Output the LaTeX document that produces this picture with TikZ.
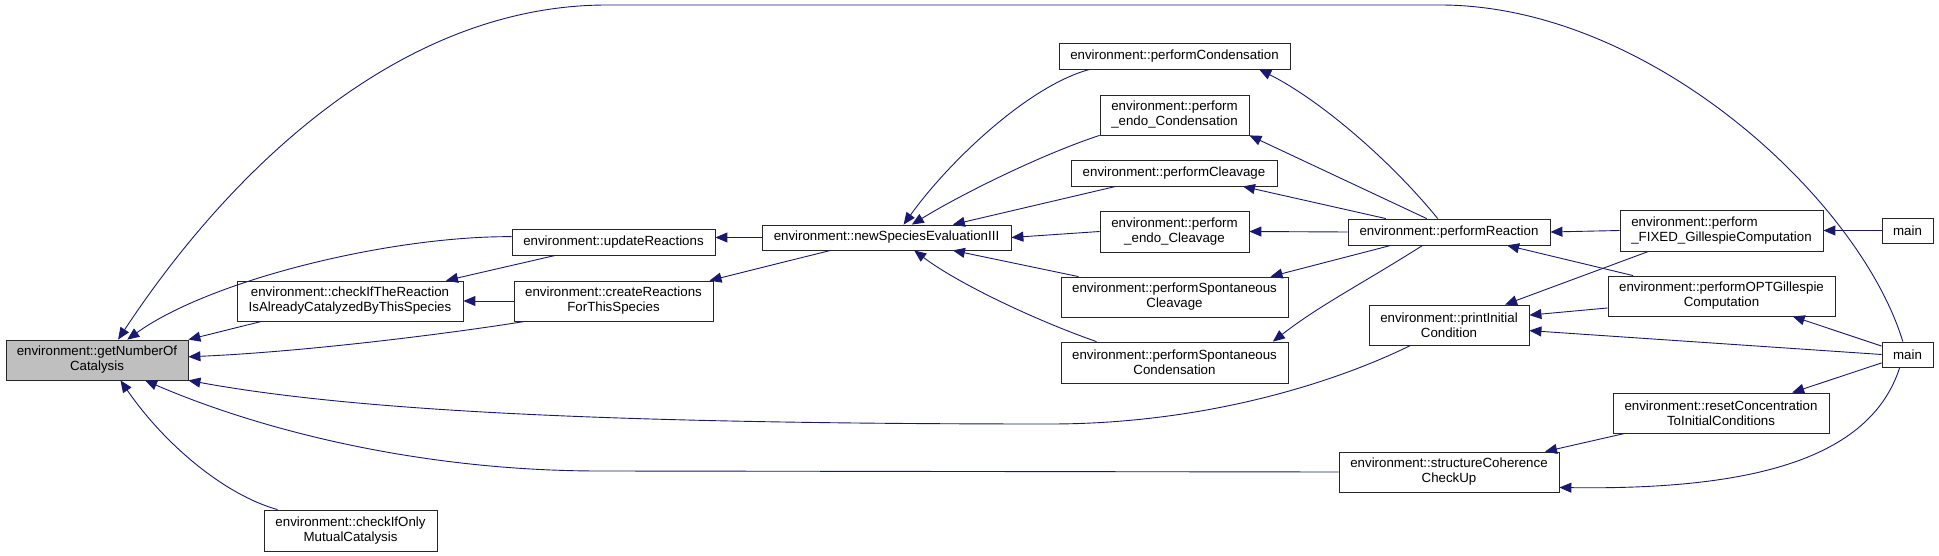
\documentclass[tikz,border=0pt]{standalone}
\usepackage{fontspec}
\setmainfont{Liberation Sans}
\usepackage{xcolor}
\usetikzlibrary{arrows.meta}
\definecolor{edgeblue}{HTML}{191970}
\definecolor{hilite}{HTML}{BFBFBF}

\begin{document}
\begin{tikzpicture}[x=1pt,y=-1pt,
  box/.style={draw=black!85,line width=0.8pt,align=center,inner sep=0pt,fill=white,font=\fontsize{13.3}{15}\selectfont},
  arr/.style={-{Triangle[length=12pt,width=10pt]},draw=edgeblue,line width=0.9pt}]
\useasboundingbox (0,0) rectangle (1939,556);
\node[box,fill=hilite,minimum width=182pt,minimum height=40pt] (numcat) at (97,360) {environment::getNumberOf\\Catalysis};
\node[box,minimum width=226pt,minimum height=40pt] (checkcat) at (350,301) {environment::checkIfTheReaction\\IsAlreadyCatalyzedByThisSpecies};
\node[box,minimum width=173pt,minimum height=41pt] (onlymut) at (350.5,530.5) {environment::checkIfOnly\\MutualCatalysis};
\node[box,minimum width=203pt,minimum height=26pt] (update) at (613.5,242) {environment::updateReactions};
\node[box,minimum width=199pt,minimum height=40pt] (create) at (613.5,301) {environment::createReactions\\ForThisSpecies};
\node[box,minimum width=249pt,minimum height=25pt] (newspec) at (886.5,237.5) {environment::newSpeciesEvaluationIII};
\node[box,minimum width=231pt,minimum height=26pt] (cond) at (1174.5,56) {environment::performCondensation};
\node[box,minimum width=149pt,minimum height=40pt] (endocond) at (1174.5,115) {environment::perform\\\_endo\_Condensation};
\node[box,minimum width=206pt,minimum height=26pt] (cleav) at (1174,173) {environment::performCleavage};
\node[box,minimum width=149pt,minimum height=41pt] (endocleav) at (1174.5,231.5) {environment::perform\\\_endo\_Cleavage};
\node[box,minimum width=227pt,minimum height=40pt] (spcleav) at (1174.5,297) {environment::performSpontaneous\\Cleavage};
\node[box,minimum width=227pt,minimum height=41pt] (spcond) at (1174.5,362.5) {environment::performSpontaneous\\Condensation};
\node[box,minimum width=202pt,minimum height=26pt] (react) at (1449,232) {environment::performReaction};
\node[box,minimum width=160pt,minimum height=40pt] (initcond) at (1449,325) {environment::printInitial\\Condition};
\node[box,minimum width=220pt,minimum height=40pt] (coher) at (1449,472) {environment::structureCoherence\\CheckUp};
\node[box,align=left,minimum width=203pt,minimum height=41pt] (fixed) at (1721.5,230.5) {environment::perform\\\_FIXED\_GillespieComputation};
\node[box,minimum width=227pt,minimum height=40pt] (optg) at (1721.5,296) {environment::performOPTGillespie\\Computation};
\node[box,minimum width=216pt,minimum height=40pt] (reset) at (1721,413) {environment::resetConcentration\\ToInitialConditions};
\node[box,minimum width=51pt,minimum height=25pt] (mainA) at (1907.5,230.5) {main};
\node[box,minimum width=51pt,minimum height=25pt] (mainB) at (1907.5,354.5) {main};
\draw[arr] (mainB.110) .. controls (1860,200) and (1650,5) .. (1440,5) -- (607,5) .. controls (400,5) and (230,170) .. (numcat.44);
\draw[arr] (update.177) .. controls (390,236) and (210,280) .. (numcat.34);
\draw[arr] (checkcat.-167) -- (numcat.north east);
\draw[arr] (create.-167) .. controls (440,335) and (300,352) .. (numcat.2);
\draw[arr] (initcond.-152) .. controls (1330,385) and (1200,424) .. (1050,424) .. controls (600,424) and (350,410) .. (numcat.south east);
\draw[arr] (coher.west) -- (600,471) .. controls (420,471) and (260,430) .. (numcat.-23);
\draw[arr] (onlymut.164) .. controls (225,495) and (165,445) .. (numcat.-41);
\draw[arr] (newspec.west) -- (newspec.west-|update.east);
\draw[arr] (update.-167) -- (checkcat.12);
\draw[arr] (create.west) -- (checkcat.east);
\draw[arr] (newspec.-167) -- (create.12);
\draw[arr] (cond.-171) .. controls (1030,85) and (950,160) .. (newspec.37);
\draw[arr] (endocond.south west) .. controls (1040,155) and (960,195) .. (newspec.27);
\draw[arr] (cleav.-167) -- (newspec.11);
\draw[arr] (endocleav.west) -- (newspec.east);
\draw[arr] (spcleav.168) -- (newspec.-11);
\draw[arr] (spcond.165) .. controls (1040,322) and (960,285) .. (newspec.-25);
\draw[arr] (react.130) .. controls (1390,160) and (1320,100) .. (cond.-9);
\draw[arr] (react.149) -- (endocond.south east);
\draw[arr] (react.168) -- (cleav.-11);
\draw[arr] (react.west) -- (endocleav.east);
\draw[arr] (react.-167) -- (spcleav.12);
\draw[arr] (react.-153) .. controls (1360,285) and (1320,305) .. (spcond.12);
\draw[arr] (fixed.west) -- (react.east);
\draw[arr] (optg.167) -- (react.-13);
\draw[arr] (mainA.west) -- (fixed.east);
\draw[arr] (fixed.-164) -- (initcond.20);
\draw[arr] (optg.-174) -- (initcond.7);
\draw[arr] (mainB.west) -- (initcond.-4);
\draw[arr] (mainB.162) -- (optg.-16);
\draw[arr] (mainB.-162) -- (reset.16);
\draw[arr] (reset.-168) -- (coher.12);
\draw[arr] (mainB.-121) .. controls (1870,460) and (1750,490) .. (coher.-8);
\end{tikzpicture}
\end{document}
